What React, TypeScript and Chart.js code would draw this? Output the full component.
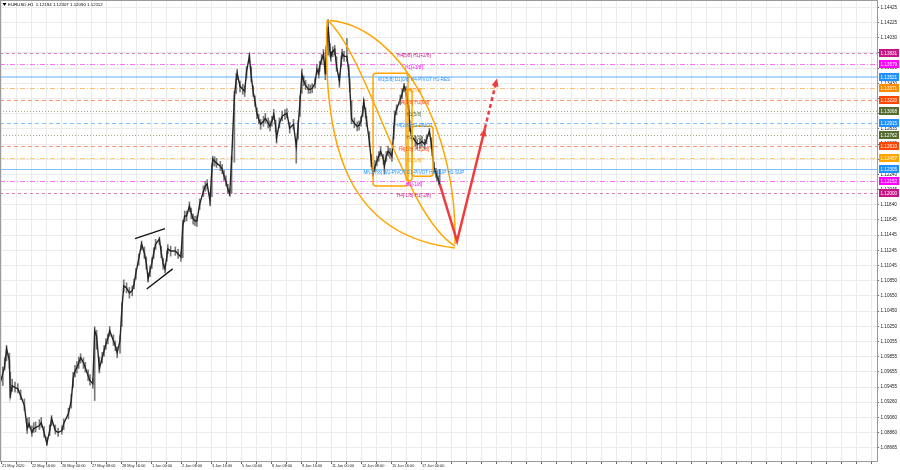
import React, { useEffect, useRef } from 'react';
import { Chart, registerables } from 'chart.js';

Chart.register(...registerables);

const FONT = "'Liberation Sans',Arial,sans-serif";

// ---- header ----
const symbolTitle = 'EURUSD,H1';
const lastOHLC = ['1.12194', '1.12307', '1.12090', '1.12112'];

// ---- x axis (H1 bar index from the first visible bar) ----
const xMin = 0;
const xMax = 936.5;
const xLabelStart = 2;
const xLabelStep = 32;
const xGridStep = 16;
const xTickLabels = [
  '21 May 2020', '22 May 16:00', '26 May 00:00', '27 May 08:00', '28 May 16:00',
  '1 Jun 00:00', '2 Jun 08:00', '3 Jun 16:00', '5 Jun 00:00', '8 Jun 08:00',
  '9 Jun 16:00', '11 Jun 00:00', '12 Jun 08:00', '15 Jun 16:00', '17 Jun 00:00',
];

// ---- y axis ----
const yMin = 1.08475;
const yMax = 1.14523;
const yTickValues = [
  1.14425, 1.14225, 1.1403, 1.1383, 1.1363, 1.1343, 1.13235, 1.13035, 1.12835, 1.12635,
  1.1244, 1.1224, 1.12045, 1.1184, 1.11645, 1.11445, 1.11245, 1.11045, 1.1085, 1.1065,
  1.1045, 1.1025, 1.10055, 1.09855, 1.09655, 1.09455, 1.0926, 1.0906, 1.0886, 1.08665,
];

// ---- price samples ----
const barHour = [
  0, 3, 5, 7, 10, 11, 13, 16, 19, 22,
  26, 29, 31, 34, 36, 38, 42, 44, 47, 50,
  53, 55, 59, 62, 66, 68, 73, 76, 78, 80,
  82, 84, 86, 89, 91, 94, 96, 99, 101, 103,
  106, 109, 111, 113, 115, 117, 121, 123, 125, 128,
  130, 132, 135, 138, 141, 143, 145, 148, 151, 154,
  156, 158, 160, 162, 164, 166, 170, 172, 174, 176,
  178, 179, 182, 187, 190, 193, 195, 197, 199, 202,
  204, 206, 208, 210, 213, 217, 219, 221, 224, 226,
  227, 229, 231, 235, 237, 239, 241, 243, 245, 247,
  250, 252, 253, 256, 259, 261, 263, 266, 268, 270,
  272, 274, 276, 278, 281, 283, 286, 288, 290, 292,
  294, 295, 298, 301, 304, 306, 309, 313, 316, 318,
  320, 322, 324, 326, 329, 331, 333, 336, 338, 340,
  341, 343, 345, 347, 348, 350, 352, 353, 355, 357,
  359, 362, 364, 365, 367, 370, 372, 373, 375, 378,
  381, 383, 385, 387, 388, 390, 391, 394, 396, 398,
  400, 402, 404, 406, 409, 410, 412, 414, 416, 418,
  420, 421, 423, 427, 429, 431, 433, 434, 436, 437,
  439, 443, 445, 448, 450, 453, 455, 458, 460, 461,
  463, 465, 466, 468, 469,
];
const barClose = [
  1.09501, 1.09631, 1.09736, 1.09958, 1.09801, 1.09344, 1.09475, 1.09448, 1.09435, 1.09344,
  1.09213, 1.08913, 1.08978, 1.08861, 1.08913, 1.08926, 1.08952, 1.08991, 1.08861, 1.08717,
  1.08887, 1.09043, 1.08887, 1.08861, 1.08887, 1.08978, 1.09109, 1.09279, 1.09566, 1.0967,
  1.0971, 1.09775, 1.0984, 1.09775, 1.0971, 1.09605, 1.0954, 1.09501, 1.10193, 1.10128,
  1.09697, 1.0984, 1.09932, 1.10023, 1.10088, 1.10193, 1.10062, 1.09997, 1.09906, 1.10062,
  1.1048, 1.10781, 1.10754, 1.10689, 1.10715, 1.10807, 1.1095, 1.11133, 1.11329, 1.11212,
  1.11081, 1.10872, 1.10977, 1.11081, 1.11212, 1.11329, 1.11394, 1.11212, 1.11068, 1.11003,
  1.11172, 1.11264, 1.11238, 1.11238, 1.11199, 1.11159, 1.11564, 1.11695, 1.11695, 1.11825,
  1.11734, 1.11656, 1.1163, 1.1163, 1.11852, 1.12021, 1.12087, 1.12113, 1.11891, 1.12309,
  1.12439, 1.12413, 1.12387, 1.12348, 1.12309, 1.12217, 1.12152, 1.12048, 1.11982, 1.12413,
  1.13262, 1.13484, 1.13563, 1.13393, 1.13354, 1.13328, 1.13589, 1.13785, 1.13523, 1.13328,
  1.13197, 1.1304, 1.12962, 1.12896, 1.12936, 1.12975, 1.1291, 1.1287, 1.12936, 1.13027,
  1.1287, 1.12714, 1.1291, 1.13001, 1.13027, 1.1304, 1.12844, 1.12896, 1.12609, 1.1287,
  1.13197, 1.1355, 1.13458, 1.13406, 1.13354, 1.13354, 1.13367, 1.13432, 1.13615, 1.13563,
  1.13654, 1.13745, 1.13811, 1.1355, 1.1385, 1.14176, 1.1385, 1.13785, 1.1385, 1.13876,
  1.13654, 1.13458, 1.13719, 1.13824, 1.13785, 1.13785, 1.13589, 1.13393, 1.12962, 1.1291,
  1.1287, 1.12883, 1.12936, 1.13066, 1.13197, 1.1304, 1.12936, 1.12674, 1.12413, 1.12243,
  1.12348, 1.12413, 1.12479, 1.12544, 1.12439, 1.12348, 1.12479, 1.12544, 1.12518, 1.12479,
  1.12805, 1.13001, 1.13092, 1.13223, 1.13301, 1.13393, 1.13328, 1.13262, 1.13066, 1.1287,
  1.1274, 1.12674, 1.12635, 1.12648, 1.12674, 1.12635, 1.12701, 1.12805, 1.12648, 1.12544,
  1.12322, 1.12257, 1.12217, 1.12152, 1.12112,
];
const barHigh = [
  1.0958, 1.0972, 1.0984, 1.09997, 1.099, 1.0965, 1.0956, 1.0952, 1.095, 1.0942,
  1.093, 1.0905, 1.0906, 1.0895, 1.0899, 1.09, 1.0903, 1.0906, 1.0894, 1.088,
  1.0896, 1.09083, 1.0896, 1.0892, 1.0895, 1.0904, 1.0918, 1.0936, 1.0965, 1.0974,
  1.0979, 1.0985, 1.09892, 1.0984, 1.0978, 1.0968, 1.0962, 1.0957, 1.10245, 1.102,
  1.0985, 1.0991, 1.1, 1.1009, 1.1015, 1.1025, 1.1014, 1.1006, 1.0998, 1.1013,
  1.1056, 1.1086, 1.1082, 1.1076, 1.1078, 1.1087, 1.1101, 1.112, 1.11368, 1.1129,
  1.1116, 1.1095, 1.1104, 1.1115, 1.1128, 1.1139, 1.11421, 1.113, 1.1114, 1.1107,
  1.1124, 1.1132, 1.113, 1.1129, 1.1126, 1.1122, 1.1164, 1.1176, 1.1176, 1.1188,
  1.118, 1.1172, 1.1169, 1.117, 1.1192, 1.1209, 1.1215, 1.1217, 1.12, 1.1238,
  1.12479, 1.1247, 1.1245, 1.1241, 1.1237, 1.1229, 1.1222, 1.1211, 1.1205, 1.1248,
  1.1333, 1.1356, 1.13615, 1.1346, 1.1342, 1.134, 1.1365, 1.13824, 1.1365, 1.134,
  1.1327, 1.1311, 1.1303, 1.1296, 1.13, 1.1304, 1.1298, 1.1294, 1.13, 1.1309,
  1.1295, 1.128, 1.1298, 1.1307, 1.1309, 1.131, 1.1292, 1.1296, 1.127, 1.1294,
  1.1327, 1.1362, 1.1353, 1.1347, 1.1342, 1.1341, 1.1343, 1.135, 1.1368, 1.1363,
  1.1372, 1.1381, 1.13876, 1.1374, 1.1392, 1.14268, 1.1395, 1.1385, 1.1391, 1.1393,
  1.1378, 1.1356, 1.1379, 1.1388, 1.1385, 1.1402, 1.1368, 1.135, 1.132, 1.1298,
  1.1293, 1.1294, 1.13, 1.1313, 1.13223, 1.1311, 1.13, 1.128, 1.125, 1.1232,
  1.1242, 1.1248, 1.1254, 1.126, 1.125, 1.1242, 1.1254, 1.1261, 1.1258, 1.1254,
  1.1288, 1.1307, 1.1315, 1.1328, 1.1336, 1.13432, 1.1339, 1.1333, 1.1315, 1.1295,
  1.128, 1.1274, 1.127, 1.1271, 1.1274, 1.127, 1.1276, 1.12844, 1.1272, 1.1262,
  1.124, 1.1232, 1.1228, 1.1222, 1.12307,
];
const barLow = [
  1.0945, 1.09475, 1.0968, 1.098, 1.097, 1.09318, 1.094, 1.0939, 1.0938, 1.0929,
  1.0915, 1.08848, 1.0892, 1.0881, 1.0886, 1.0887, 1.089, 1.0893, 1.088, 1.08691,
  1.0882, 1.0895, 1.0884, 1.0881, 1.0884, 1.089, 1.0904, 1.0918, 1.0945, 1.0959,
  1.0964, 1.097, 1.0977, 1.097, 1.0965, 1.0954, 1.0948, 1.0944, 1.09279, 1.0995,
  1.0964, 1.0977, 1.0986, 1.0995, 1.1002, 1.1012, 1.1, 1.0993, 1.0984, 1.099,
  1.1025, 1.107, 1.10689, 1.1062, 1.1065, 1.1074, 1.1087, 1.1105, 1.1125, 1.1114,
  1.11, 1.10833, 1.109, 1.1101, 1.1114, 1.1126, 1.1132, 1.1115, 1.11, 1.1095,
  1.111, 1.112, 1.1117, 1.1118, 1.1114, 1.111, 1.1115, 1.1162, 1.1163, 1.1175,
  1.1166, 1.1159, 1.1157, 1.1156, 1.1178, 1.1195, 1.1202, 1.1205, 1.1183, 1.1195,
  1.1235, 1.1235, 1.1233, 1.1229, 1.1225, 1.1216, 1.1209, 1.1199, 1.11956, 1.1199,
  1.124, 1.133, 1.1348, 1.1332, 1.1329, 1.1326, 1.135, 1.137, 1.1345, 1.1326,
  1.1313, 1.1297, 1.129, 1.1283, 1.1287, 1.1291, 1.1285, 1.1281, 1.1287, 1.1296,
  1.128, 1.1265, 1.1285, 1.1294, 1.1296, 1.1298, 1.1278, 1.1283, 1.12387, 1.127,
  1.13, 1.133, 1.134, 1.1335, 1.133, 1.133, 1.1331, 1.1337, 1.1355, 1.135,
  1.1359, 1.1368, 1.1374, 1.1348, 1.1356, 1.138, 1.1378, 1.1372, 1.1378, 1.138,
  1.1359, 1.1338, 1.1365, 1.1376, 1.1372, 1.1372, 1.1352, 1.1332, 1.129, 1.1285,
  1.1281, 1.1282, 1.1287, 1.13, 1.131, 1.1298, 1.1287, 1.126, 1.1234, 1.12217,
  1.1228, 1.1235, 1.1241, 1.1248, 1.1237, 1.12243, 1.1241, 1.1248, 1.1245, 1.1241,
  1.127, 1.129, 1.1302, 1.1315, 1.1323, 1.1332, 1.1326, 1.1319, 1.13, 1.128,
  1.1267, 1.1261, 1.1257, 1.1258, 1.1261, 1.1257, 1.1264, 1.1274, 1.1258, 1.1248,
  1.1226, 1.122, 1.1215, 1.121, 1.1209,
];

// ---- horizontal level lines ----
const levelPrices = [1.13831, 1.13679, 1.13521, 1.13371, 1.1322, 1.13068, 1.12915, 1.12762, 1.1261, 1.12457, 1.12305, 1.12152, 1.12];
const levelNames = [
  'H4[5/8] H1[+2/8]', 'H1[+1/8]', 'W1[5/8] D1[0/8] H4-PIVOT H1-RES', 'H1[7/8]', 'H4[3/8] H1[6/8]',
  'H1[5/8]', 'H4[2/8] H1-PIVOT', 'H1[3/8]', 'H4[1/8] H1[2/8]', 'H1[1/8]',
  'MN1[7/8] W1-PIVOT D1-PIVOT H4-SUP H1-SUP', 'H1[-1/8]', 'H4[-1/8] H1[-2/8]',
];
const levelColors = ['#c71585', '#ff00ff', '#1e90ff', '#ff8c00', '#ff4500', '#556b2f', '#1e90ff', '#556b2f', '#ff4500', '#ffa500', '#1e90ff', '#ff00ff', '#c71585'];
const levelDash = [[3, 3], [5, 2, 1, 2], [], [5, 2, 1, 2], [4, 3], [1, 2], [4, 3], [1, 2], [4, 3], [5, 2, 1, 2], [], [5, 2, 1, 2], [3, 3]];
const levelWidth = [1, 1, 2, 1, 1, 1, 1, 1, 1, 1, 1, 1, 1];
const levelTextHour = 441.5;

// ---- drawn objects ----
const arcCurves = [
  [352.0, 1.14255, 426.7, 1.14176, 488.5, 1.12805, 485.3, 1.11329],
  [349.9, 1.14255, 394.7, 1.13719, 432.0, 1.11695, 485.3, 1.11303],
  [348.8, 1.14255, 343.5, 1.12544, 373.3, 1.11434, 485.3, 1.11277],
];
const boxes = [
  [397.9, 1.13563, 435.2, 1.12087],
  [433.1, 1.13354, 439.5, 1.12152],
  [439.5, 1.1287, 461.9, 1.12217],
];
const trendLines = [
  [144.0, 1.11398, 176.0, 1.11529],
  [156.5, 1.10741, 184.2, 1.11003],
];
const forecastHour = [469, 487.5, 517.3, 530.1];
const forecastPrice = [1.12112, 1.11368, 1.12844, 1.13497];

function arrowHead(ctx: CanvasRenderingContext2D, x1: number, y1: number, x2: number, y2: number, color: string) {
  const a = Math.atan2(y2 - y1, x2 - x1);
  const len = 8;
  const w = 3.5;
  ctx.save();
  ctx.fillStyle = color;
  ctx.beginPath();
  ctx.moveTo(x2, y2);
  ctx.lineTo(x2 - len * Math.cos(a) + w * Math.sin(a), y2 - len * Math.sin(a) - w * Math.cos(a));
  ctx.lineTo(x2 - len * Math.cos(a) - w * Math.sin(a), y2 - len * Math.sin(a) + w * Math.cos(a));
  ctx.closePath();
  ctx.fill();
  ctx.restore();
}

export default function App() {
  const ref = useRef<HTMLCanvasElement>(null);

  useEffect(() => {
    document.body.style.margin = '0';
    const canvas = ref.current;
    if (!canvas) return;

    const overlay = {
      id: 'mt4overlay',
      beforeDatasetsDraw(chart: any) {
        const { ctx, chartArea: ca, scales } = chart;
        ctx.save();
        ctx.beginPath();
        ctx.rect(ca.left, ca.top, ca.right - ca.left, ca.bottom - ca.top);
        ctx.clip();
        levelPrices.forEach((p, i) => {
          const y = Math.round(scales.y.getPixelForValue(p)) + (levelWidth[i] === 2 ? 0 : 0.5);
          ctx.strokeStyle = levelColors[i];
          ctx.globalAlpha = levelWidth[i] === 2 ? 0.35 : 0.55;
          ctx.lineWidth = levelWidth[i];
          ctx.setLineDash(levelDash[i]);
          ctx.beginPath();
          ctx.moveTo(ca.left, y);
          ctx.lineTo(ca.right, y);
          ctx.stroke();
        });
        ctx.restore();
      },
      afterDatasetsDraw(chart: any) {
        const { ctx, chartArea: ca, scales } = chart;
        const X = (v: number) => scales.x.getPixelForValue(v);
        const Y = (v: number) => scales.y.getPixelForValue(v);
        ctx.save();
        ctx.beginPath();
        ctx.rect(ca.left, ca.top, ca.right - ca.left, ca.bottom - ca.top);
        ctx.clip();

        // trend lines
        ctx.strokeStyle = '#111';
        ctx.lineWidth = 1.3;
        trendLines.forEach((t) => {
          ctx.beginPath();
          ctx.moveTo(X(t[0]), Y(t[1]));
          ctx.lineTo(X(t[2]), Y(t[3]));
          ctx.stroke();
        });

        // orange arcs
        ctx.strokeStyle = '#ffa500';
        ctx.lineWidth = 1.5;
        arcCurves.forEach((c) => {
          ctx.beginPath();
          ctx.moveTo(X(c[0]), Y(c[1]));
          ctx.bezierCurveTo(X(c[2]), Y(c[3]), X(c[4]), Y(c[5]), X(c[6]), Y(c[7]));
          ctx.stroke();
        });
        // orange boxes
        boxes.forEach((b) => {
          const x0 = X(b[0]);
          const y0 = Y(b[1]);
          const x1 = X(b[2]);
          const y1 = Y(b[3]);
          ctx.beginPath();
          if ((ctx as any).roundRect) (ctx as any).roundRect(x0, y0, x1 - x0, y1 - y0, 3);
          else ctx.rect(x0, y0, x1 - x0, y1 - y0);
          ctx.stroke();
        });

        // level texts
        ctx.font = `4.6px ${FONT}`;
        ctx.textAlign = 'center';
        ctx.textBaseline = 'middle';
        levelPrices.forEach((p, i) => {
          ctx.fillStyle = levelColors[i];
          ctx.fillText(levelNames[i], X(levelTextHour), Y(p) + 3.2);
        });

        // forecast arrow
        const red = '#ef3c3c';
        const px = forecastHour.map(X);
        const py = forecastPrice.map(Y);
        ctx.strokeStyle = red;
        ctx.lineWidth = 2.5;
        ctx.setLineDash([]);
        ctx.beginPath();
        ctx.moveTo(px[0], py[0]);
        ctx.lineTo(px[1], py[1]);
        ctx.lineTo(px[2], py[2]);
        ctx.stroke();
        arrowHead(ctx, px[1], py[1], px[2], py[2], red);
        ctx.setLineDash([4, 3]);
        ctx.beginPath();
        ctx.moveTo(px[2], py[2]);
        ctx.lineTo(px[3] - (px[3] - px[2]) * 0.1, py[3] - (py[3] - py[2]) * 0.1);
        ctx.stroke();
        ctx.setLineDash([]);
        arrowHead(ctx, px[2], py[2], px[3], py[3], red);
        ctx.restore();
      },
      afterDraw(chart: any) {
        const { ctx, chartArea: ca, scales } = chart;
        ctx.save();
        // frame
        ctx.strokeStyle = '#9a9a9a';
        ctx.lineWidth = 1;
        ctx.strokeRect(ca.left + 0.5, ca.top + 0.5, ca.right - ca.left - 1, ca.bottom - ca.top - 1);

        // price boxes on the axis
        ctx.font = `4.6px ${FONT}`;
        ctx.textAlign = 'left';
        ctx.textBaseline = 'middle';
        levelPrices.forEach((p, i) => {
          const y = scales.y.getPixelForValue(p);
          ctx.fillStyle = levelColors[i];
          ctx.fillRect(ca.right + 1, Math.round(y) - 4, 20, 8);
          ctx.fillStyle = '#ffffff';
          ctx.fillText(p.toFixed(5), ca.right + 2.5, Math.round(y) + 0.3);
        });

        // header
        ctx.fillStyle = '#000';
        ctx.beginPath();
        ctx.moveTo(ca.left + 2.5, ca.top + 3);
        ctx.lineTo(ca.left + 6.5, ca.top + 3);
        ctx.lineTo(ca.left + 4.5, ca.top + 6);
        ctx.closePath();
        ctx.fill();
        ctx.font = `4.4px ${FONT}`;
        ctx.textAlign = 'left';
        ctx.textBaseline = 'middle';
        ctx.fillText(`${symbolTitle}  ${lastOHLC.join(' ')}`, ca.left + 8, ca.top + 4.8);
        ctx.restore();
      },
    };

    const chart = new Chart(canvas, {
      type: 'bar',
      data: {
        datasets: [
          {
            type: 'line',
            data: barHour.map((h, i) => ({ x: h, y: barClose[i] })),
            borderColor: '#262626',
            borderWidth: 1.4,
            pointRadius: 0,
            tension: 0,
            order: 0,
          } as any,
          {
            type: 'bar',
            data: barHour.map((h, i) => ({ x: h, y: [barLow[i], barHigh[i]] })),
            backgroundColor: '#7a7a7a',
            barThickness: 1,
            grouped: false,
            order: 1,
          } as any,
        ],
      },
      options: {
        responsive: false,
        animation: false,
        events: [],
        layout: { padding: 0 },
        plugins: { legend: { display: false }, tooltip: { enabled: false }, title: { display: false } },
        scales: {
          x: {
            type: 'linear',
            min: xMin,
            max: xMax,
            offset: false,
            afterBuildTicks: (s: any) => {
              const t = [];
              for (let v = xLabelStart; v <= xMax; v += xGridStep) t.push({ value: v });
              s.ticks = t;
            },
            afterFit: (s: any) => {
              s.height = 8;
              s.paddingLeft = 0;
              s.paddingRight = 0;
            },
            grid: { color: '#ebebeb', tickColor: '#666', tickLength: 2, drawTicks: true, offset: false },
            border: { display: false },
            ticks: {
              autoSkip: false,
              maxRotation: 0,
              minRotation: 0,
              align: 'start',
              padding: 0,
              color: '#222',
              font: { family: FONT, size: 3.9, lineHeight: 1 },
              callback: (v: any) => {
                const k = (Number(v) - xLabelStart) / xLabelStep;
                return Number.isInteger(k) && k < xTickLabels.length ? xTickLabels[k] : '';
              },
            },
          },
          y: {
            type: 'linear',
            position: 'right',
            min: yMin,
            max: yMax,
            afterBuildTicks: (s: any) => {
              s.ticks = yTickValues.map((v) => ({ value: v }));
            },
            afterFit: (s: any) => {
              s.width = 22;
              s.paddingTop = 0;
              s.paddingBottom = 0;
            },
            grid: { color: '#ebebeb', tickColor: '#666', tickLength: 1, drawTicks: true },
            border: { display: false },
            ticks: {
              padding: 1.5,
              color: '#222',
              font: { family: FONT, size: 4.6, lineHeight: 1 },
              callback: (v: any) => Number(v).toFixed(5),
            },
          },
        },
      } as any,
      plugins: [overlay],
    });

    return () => chart.destroy();
  }, []);

  return (
    <div style={{ width: 900, height: 470, background: '#ffffff' }}>
      <canvas ref={ref} width={900} height={470} style={{ display: 'block', width: 900, height: 470 }} />
    </div>
  );
}
